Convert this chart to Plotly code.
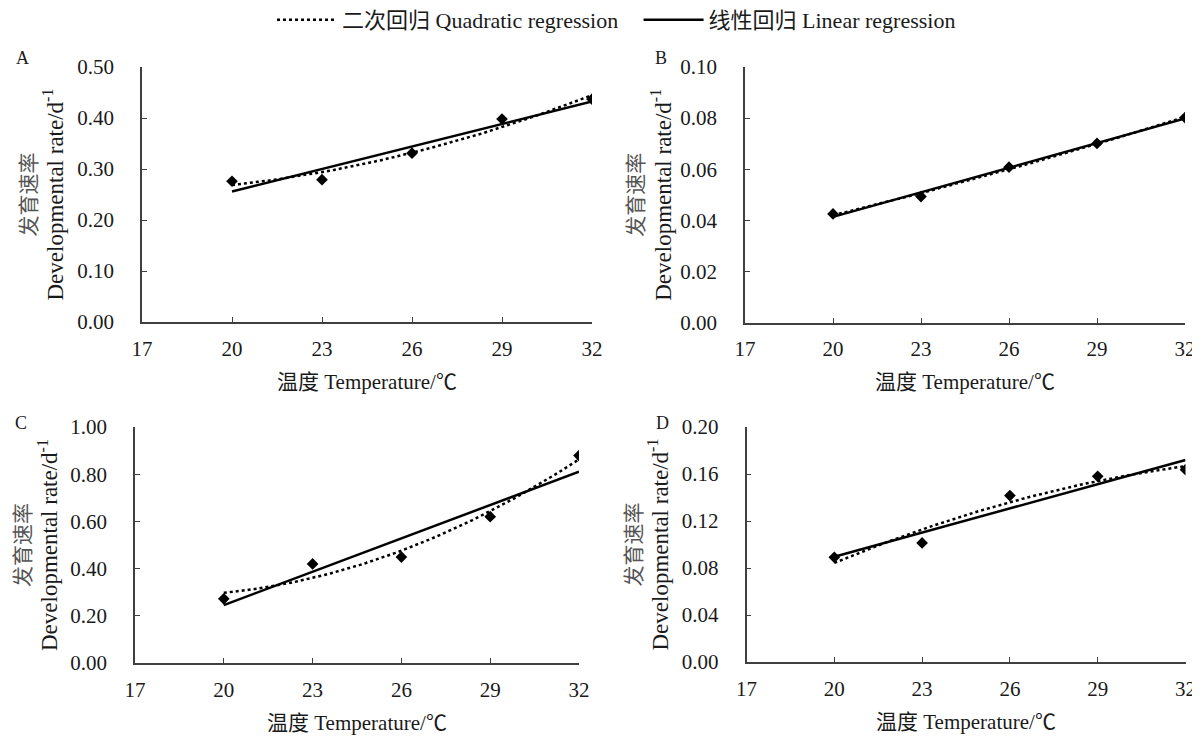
import numpy as np
import plotly.graph_objects as go

# ---- data ----
temps = [20, 23, 26, 29, 32]
rate_A = [0.276, 0.279, 0.331, 0.398, 0.437]
rate_B = [0.0425, 0.0493, 0.0608, 0.0701, 0.0802]
rate_C = [0.272, 0.420, 0.449, 0.620, 0.879]
rate_D = [0.0891, 0.1013, 0.1416, 0.1580, 0.1637]

panel_letters = ["A", "B", "C", "D"]
x_ticks = [17, 20, 23, 26, 29, 32]
y_ticks_A = [0.0, 0.1, 0.2, 0.3, 0.4, 0.5]
y_ticks_B = [0.0, 0.02, 0.04, 0.06, 0.08, 0.10]
y_ticks_C = [0.0, 0.2, 0.4, 0.6, 0.8, 1.0]
y_ticks_D = [0.0, 0.04, 0.08, 0.12, 0.16, 0.20]

legend_quad = "二次回归 Quadratic regression\u2002\u2009"
legend_lin = "线性回归 Linear regression"
x_title = "温度 Temperature/℃"
y_title = ("<span style='color:#555555'>发育速率</span><br>"
           "<span style='font-size:23px'>Developmental rate/d<sup>-1</sup></span>")

# page body has an 8px margin: figure starts at window pixel (8,8)
OFF = 8
W, H = 1200, 736 - OFF
FONT = "Liberation Serif, Times New Roman, Noto Sans CJK SC, serif"
TXT = "#1a1a1a"
AX = "#404040"
FS = 21


def fx(px):
    return (px - OFF) / W


def fy(py):
    return 1 - (py - OFF) / H


# plot areas in window pixels: (left, right, top, bottom)
boxes = [
    (142, 592, 67, 322),
    (745, 1185, 67, 322.5),
    (135, 579, 427, 663),
    (746.5, 1185.5, 427, 662),
]
series = [rate_A, rate_B, rate_C, rate_D]
yticks = [y_ticks_A, y_ticks_B, y_ticks_C, y_ticks_D]
ytitle_x = [42, 650, 36, 647]
letter_pos = [(22, 58), (661, 58), (21, 423), (663, 423)]

fig = go.Figure()
layout = {}
annotations = []

for i in range(4):
    xa = "x" if i == 0 else f"x{i+1}"
    ya = "y" if i == 0 else f"y{i+1}"
    rates = np.array(series[i])
    t = np.array(temps, dtype=float)
    lin = np.polyfit(t, rates, 1)
    quad = np.polyfit(t, rates, 2)
    xs = np.linspace(min(temps), max(temps), 61)

    fig.add_trace(go.Scatter(
        x=xs, y=np.polyval(quad, xs), mode="lines", xaxis=xa, yaxis=ya,
        line=dict(color="black", width=2.5, dash="dot"),
        name=legend_quad, showlegend=(i == 0), legendrank=1))
    fig.add_trace(go.Scatter(
        x=[temps[0], temps[-1]], y=np.polyval(lin, [temps[0], temps[-1]]),
        mode="lines", xaxis=xa, yaxis=ya,
        line=dict(color="black", width=2.5),
        name=legend_lin, showlegend=(i == 0), legendrank=2))
    fig.add_trace(go.Scatter(
        x=temps, y=rates, mode="markers", xaxis=xa, yaxis=ya,
        marker=dict(symbol="diamond", size=9, color="black"),
        showlegend=False))

    l, r, tp, b = boxes[i]
    yt = yticks[i]
    layout["xaxis" if i == 0 else f"xaxis{i+1}"] = dict(
        domain=[fx(l), fx(r)], anchor=ya, range=[17, 32],
        tickmode="array", tickvals=x_ticks, ticktext=[str(v) for v in x_ticks],
        ticks="inside", ticklen=5, tickcolor=AX, showline=True, linecolor=AX,
        linewidth=1.5, showgrid=False, zeroline=False, automargin=False,
        tickfont=dict(family=FONT, size=FS, color=TXT), ticklabelstandoff=7)
    layout["yaxis" if i == 0 else f"yaxis{i+1}"] = dict(
        domain=[fy(b), fy(tp)], anchor=xa, range=[0, yt[-1]],
        tickmode="array", tickvals=yt, ticktext=[f"{v:.2f}" for v in yt],
        ticks="inside", ticklen=5, tickcolor=AX, showline=True, linecolor=AX,
        linewidth=1.5, showgrid=False, zeroline=False, automargin=False,
        tickfont=dict(family=FONT, size=FS, color=TXT), ticklabelstandoff=22)

    annotations.append(dict(
        text=x_title, x=fx((l + r) / 2), y=fy(b + 60), xref="paper", yref="paper",
        xanchor="center", yanchor="middle", showarrow=False,
        font=dict(family=FONT, size=FS, color=TXT)))
    annotations.append(dict(
        text=y_title, x=fx(ytitle_x[i]), y=fy((tp + b) / 2), xref="paper", yref="paper",
        xanchor="center", yanchor="middle", showarrow=False, textangle=-90,
        font=dict(family=FONT, size=FS, color=TXT)))
    lx, ly = letter_pos[i]
    annotations.append(dict(
        text=panel_letters[i], x=fx(lx), y=fy(ly), xref="paper", yref="paper",
        xanchor="center", yanchor="middle", showarrow=False,
        font=dict(family=FONT, size=18, color=TXT)))

fig.update_layout(
    **layout,
    annotations=annotations,
    width=W, height=H,
    margin=dict(l=0, r=0, t=0, b=0, pad=0, autoexpand=False),
    paper_bgcolor="white", plot_bgcolor="white",
    legend=dict(orientation="h", x=fx(272), xanchor="left", y=fy(20), yanchor="middle",
                font=dict(family=FONT, size=22, color=TXT), itemwidth=60,
                bgcolor="rgba(0,0,0,0)", traceorder="normal"),
)

fig.write_html("out.html")
